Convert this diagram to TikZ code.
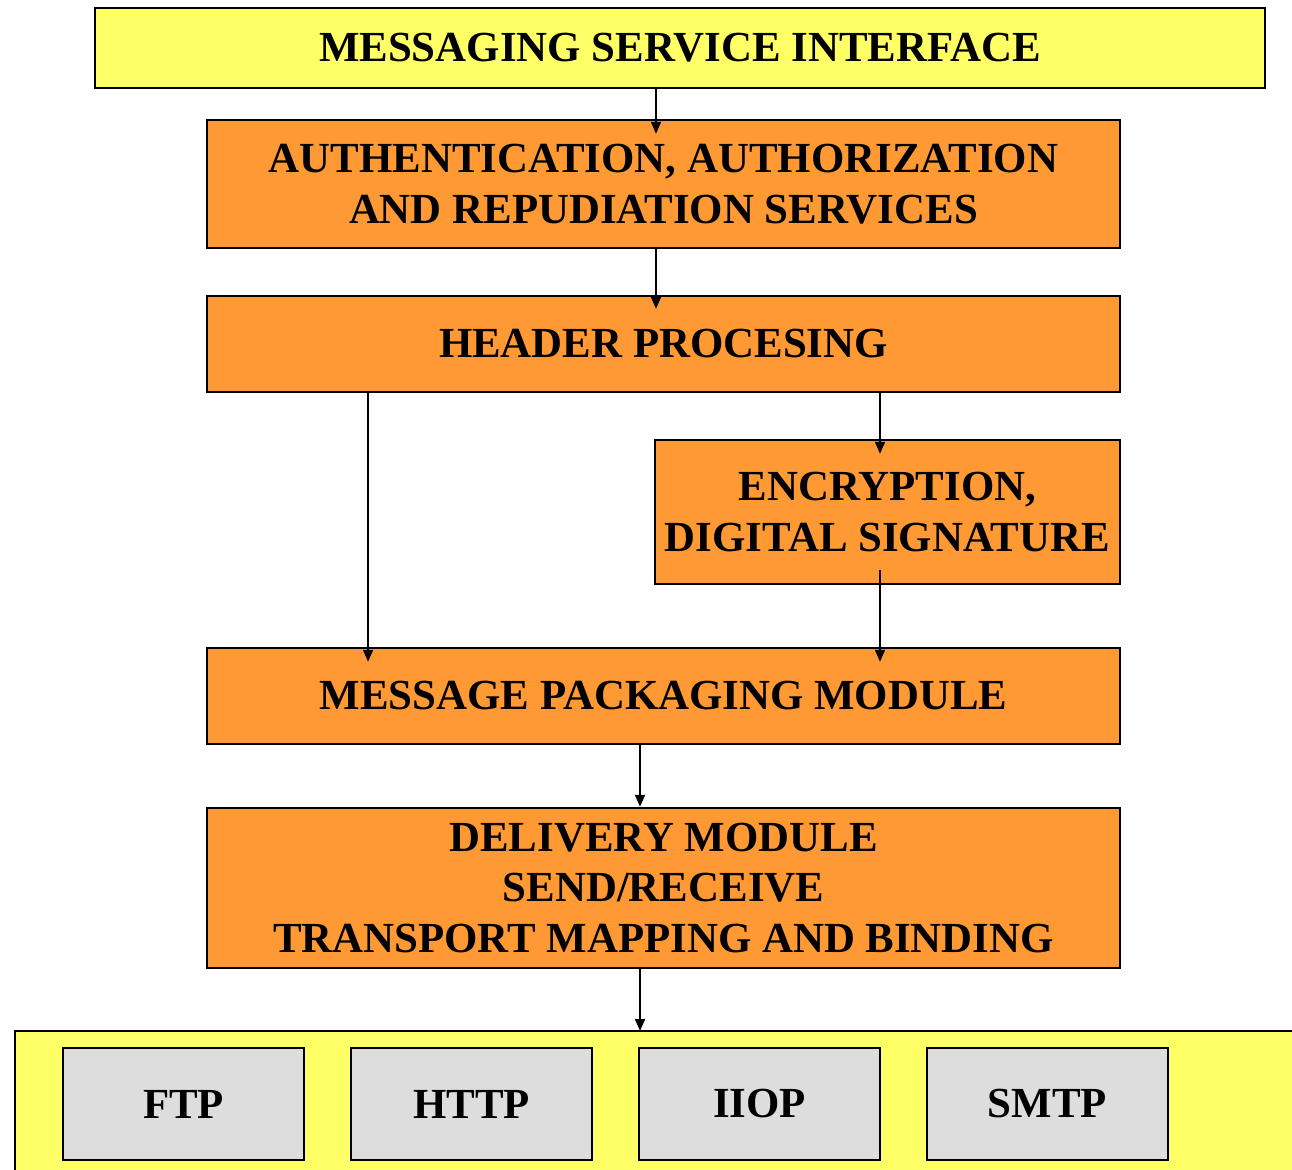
\documentclass[tikz,border=0pt]{standalone}
\usepackage{fontspec}
\setmainfont{Liberation Serif}
\definecolor{msgyellow}{RGB}{255,255,102}
\definecolor{msgorange}{RGB}{255,153,51}
\definecolor{msggray}{RGB}{221,221,221}
\usetikzlibrary{arrows.meta}
\tikzset{
	layer/.style={draw=black,line width=1.4pt,inner sep=0pt,align=center,
		font=\fontsize{24.4}{29}\selectfont\bfseries},
	iface/.style={layer,fill=msgyellow},
	module/.style={layer,fill=msgorange},
	proto/.style={layer,fill=msggray,line width=1.2pt,
		minimum width=4.82cm,minimum height=2.24cm},
	flow/.style={line width=1.1pt,-{Triangle[length=0.24cm,width=0.2cm]}}
}

\begin{document}
\begin{tikzpicture}[x=0.02cm,y=-0.02cm]
	\clip (0,0) rectangle (1292,1170);
	\fill[white] (0,0) rectangle (1292,1170);
	
	% transport layer at the bottom
	\draw[fill=msgyellow,line width=1.2pt] (15,1031) rectangle (1320,1200);
	\coordinate (base) at (640,1031);
	\node[proto] (ftp)  at (183.5,1104) {FTP};
	\node[proto] (http) at (471.5,1104) {HTTP};
	\node[proto] (iiop) at (759.5,1104) {IIOP};
	\node[proto] (smtp) at (1047.5,1104) {SMTP};
	
	% processing stack
	\node[iface,minimum width=23.4cm,minimum height=1.6cm] (msi) at (680,48)
		{MESSAGING SERVICE INTERFACE};
	\node[module,minimum width=18.26cm,minimum height=2.56cm] (aar) at (663.5,184)
		{AUTHENTICATION, AUTHORIZATION\\AND REPUDIATION SERVICES};
	\node[module,minimum width=18.26cm,minimum height=1.92cm] (hdr) at (663.5,344)
		{HEADER PROCESING};
	\node[module,minimum width=9.3cm,minimum height=2.88cm] (enc) at (887.5,512)
		{ENCRYPTION,\\DIGITAL SIGNATURE};
	\node[module,minimum width=18.26cm,minimum height=1.92cm] (mpm) at (663.5,696)
		{MESSAGE PACKAGING MODULE};
	\node[module,minimum width=18.26cm,minimum height=3.2cm] (dlv) at (663.5,888)
		{DELIVERY MODULE\\SEND/RECEIVE\\TRANSPORT MAPPING AND BINDING};
	
	% connectors
	\draw[flow] ([xshift=-0.15cm]aar.north |- msi.south) -- ([xshift=-0.15cm,yshift=-0.3cm]aar.north);
	\draw[flow] ([xshift=-0.15cm]aar.south) -- ([xshift=-0.15cm,yshift=-0.28cm]hdr.north);
	\draw[flow] ([xshift=-5.91cm]hdr.south) -- ([xshift=-5.91cm,yshift=-0.3cm]mpm.north);
	\draw[flow] ([xshift=-0.15cm]enc.north |- hdr.south) -- ([xshift=-0.15cm,yshift=-0.3cm]enc.north);
	\draw[flow] ([xshift=-0.15cm,yshift=0.3cm]enc.south) -- ([xshift=-0.15cm,yshift=-0.3cm]enc.south |- mpm.north);
	\draw[flow] ([xshift=-0.47cm]mpm.south) -- ([xshift=-0.47cm]dlv.north);
	\draw[flow] (base |- dlv.south) -- (base);
\end{tikzpicture}
\end{document}
